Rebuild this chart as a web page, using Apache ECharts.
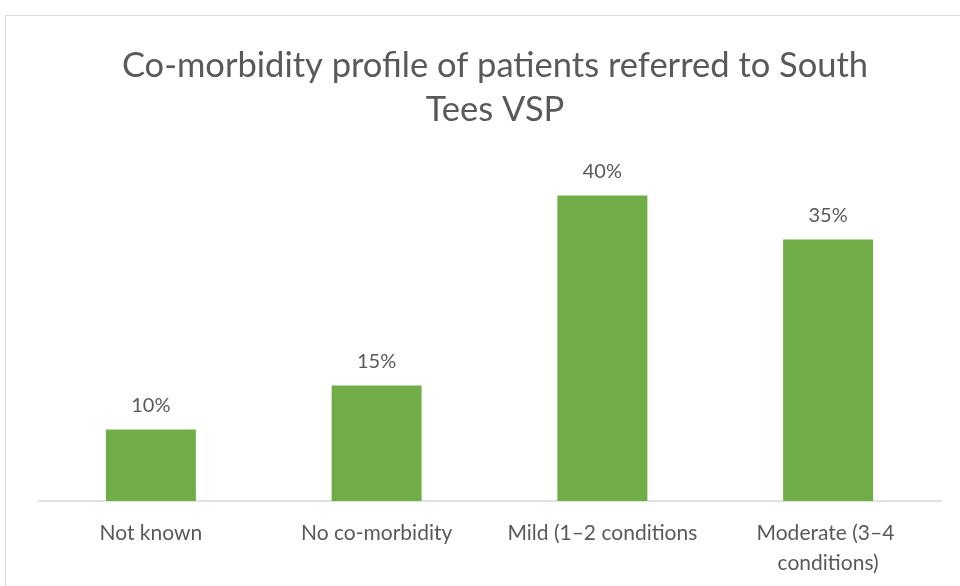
<!DOCTYPE html>
<html>
<head>
<meta charset="utf-8">
<script src="https://cdn.jsdelivr.net/npm/echarts@6/dist/echarts.min.js"></script>
<style>
  html, body { margin: 0; padding: 0; background: #fff; overflow: hidden; }
  #frame { position: absolute; left: 5px; top: 15px; width: 1000px; height: 1000px; border: 1px solid #d9d9d9; }
  #main { position: absolute; left: 0; top: 0; width: 960px; height: 586px; }
</style>
</head>
<body>
<div id="frame"></div>
<div id="main"></div>
<script>
// categories and values (bar heights, in %)
var categories = ['Not known', 'No co-morbidity', 'Mild (1\u20132 conditions', 'Moderate (3\u20134 conditions)'];
var values = [9.4, 15.2, 40.2, 34.4];
// printed data labels
var valueLabels = ['10%', '15%', '40%', '35%'];

var font = 'Lato, "Open Sans", sans-serif';
var myChart = echarts.init(document.getElementById('main'));

var option = {
  animation: false,
  title: {
    text: 'Co-morbidity profile of patients referred to South\nTees VSP',
    left: 490,
    textAlign: 'center',
    top: 39,
    textStyle: {
      fontFamily: font,
      fontSize: 34.5,
      fontWeight: 'normal',
      color: '#595959',
      lineHeight: 44
    }
  },
  grid: {
    left: 38,
    right: 19,
    top: 159,
    bottom: 85,
    containLabel: false
  },
  xAxis: {
    type: 'category',
    data: categories,
    axisLine: { lineStyle: { color: '#d9d9d9', width: 1.5 } },
    axisTick: { show: false },
    axisLabel: {
      interval: 0,
      margin: 17,
      color: '#595959',
      fontFamily: font,
      fontSize: 21,
      lineHeight: 30,
      width: 215,
      overflow: 'break'
    }
  },
  yAxis: {
    type: 'value',
    min: 0,
    max: 45,
    show: false,
    splitLine: { show: false }
  },
  series: [{
    type: 'bar',
    data: values,
    barWidth: 90,
    itemStyle: { color: '#70ad47' },
    label: {
      show: true,
      position: 'top',
      distance: 14,
      color: '#595959',
      fontFamily: font,
      fontSize: 20,
      formatter: function (p) { return valueLabels[p.dataIndex]; }
    }
  }]
};

myChart.setOption(option);
</script>
</body>
</html>
